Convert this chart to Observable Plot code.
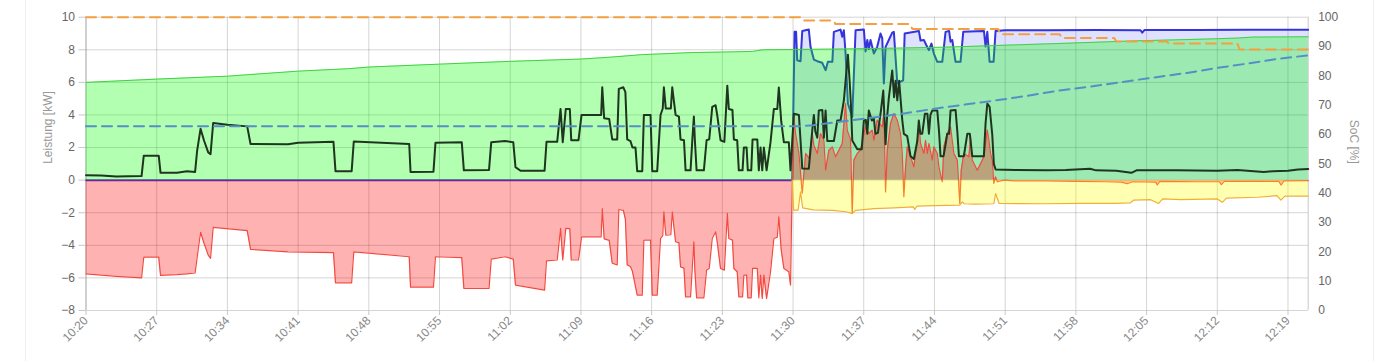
<!DOCTYPE html>
<html><head><meta charset="utf-8">
<script src="https://cdn.jsdelivr.net/npm/d3@7"></script>
<script src="https://cdn.jsdelivr.net/npm/@observablehq/plot@0.6"></script>
<style>
html,body{margin:0;padding:0;background:#fff;}
#wrap{position:relative;width:1399px;height:361px;overflow:hidden;}
#card{position:absolute;left:25px;top:0;width:1347px;height:361px;border-left:1px solid #f0f0f0;border-right:1px solid #f0f0f0;pointer-events:none;}
</style></head><body>
<div id="wrap"><div id="chart"></div><div id="card"></div></div>
<script>
// Time axis: minutes elapsed since 10:20
const xTickLabels = ["10:20","10:27","10:34","10:41","10:48","10:55","11:02","11:09","11:16","11:23","11:30","11:37","11:44","11:51","11:58","12:05","12:12","12:19"];
const kwTicks = [-8,-6,-4,-2,0,2,4,6,8,10];
const socTicks = [0,10,20,30,40,50,60,70,80,90,100];
const axisTitleLeft = "Leistung [kW]";
const axisTitleRight = "SoC [%]";

// PV (green area), [minute, kW]
const pvKW = [[0,6.0],[7,6.2],[14,6.38],[21,6.69],[26,6.84],[28,6.94],[35,7.12],[42,7.29],[49,7.43],[52,7.55],[55,7.7],[60,7.83],[63,7.86],[66,7.9],[67,8.0],[70,8.02],[75,8.05],[80,8.1],[85,8.16],[90,8.26],[97,8.4],[104,8.55],[111,8.66],[114,8.72],[115.5,8.78],[121,8.8]];

// house consumption (black line)
const houseKW = [[0,0.3],[1.5,0.28],[3,0.22],[5.5,0.25],[5.72,1.5],[7.2,1.5],[7.38,0.45],[9,0.45],[10,0.55],[10.8,0.5],[11.0,1.8],[11.34,3.15],[11.7,2.4],[12.1,1.7],[12.33,1.6],[12.59,3.5],[14,3.4],[15.96,3.3],[16.29,2.22],[20,2.2],[21,2.3],[24.5,2.35],[24.7,0.55],[26.3,0.55],[26.51,2.37],[32,2.22],[32.13,0.5],[34.4,0.52],[34.6,2.3],[37.2,2.33],[37.41,0.6],[39.9,0.62],[40.12,2.33],[41.5,2.4],[42.3,2.33],[42.52,0.8],[43.02,0.58],[45.4,0.58],[45.59,2.35],[46.65,2.35],[46.98,4.37],[47.2,2.33],[47.5,4.37],[47.9,4.37],[48.04,2.45],[48.76,2.45],[49.06,4.0],[51.0,4.0],[51.11,5.7],[51.3,3.8],[51.8,3.75],[52.1,2.5],[52.59,2.5],[52.75,5.6],[53.2,5.7],[53.4,5.4],[53.58,2.5],[53.9,2.4],[54.1,2.0],[54.4,2.0],[54.57,0.55],[55.07,0.55],[55.23,4.0],[55.89,4.0],[56.06,0.55],[56.55,0.55],[56.88,4.0],[57.1,4.4],[57.21,5.7],[57.4,4.4],[57.9,4.4],[58.04,5.7],[58.37,4.0],[58.7,3.9],[58.86,2.5],[59.2,2.45],[59.36,0.6],[59.85,0.6],[60.02,2.4],[60.18,3.9],[60.28,2.45],[60.45,0.6],[61.17,0.6],[61.44,2.45],[61.7,2.5],[62.0,4.5],[62.33,4.6],[62.49,4.0],[62.82,2.45],[63.2,2.35],[63.49,5.8],[63.64,4.37],[64.0,4.3],[64.14,2.5],[64.47,2.45],[64.63,0.6],[65.0,0.6],[65.13,2.0],[65.4,2.0],[65.52,0.6],[65.86,0.6],[65.99,2.5],[66.46,2.5],[66.61,0.6],[66.78,2.0],[66.95,0.6],[67.11,2.0],[67.38,0.6],[67.77,2.33],[68.10,4.37],[68.44,4.37],[68.59,5.68],[68.83,3.6],[69.09,2.33],[69.58,2.33],[69.75,0.6],[70.08,4.07],[70.58,4.0],[70.74,2.43],[70.91,0.72],[71.56,0.7],[71.9,3.04],[72.06,4.0],[72.2,3.0],[72.4,2.6],[72.55,4.27],[72.9,4.3],[73.05,2.6],[73.22,4.27],[73.39,2.4],[74.04,2.4],[74.38,3.66],[74.7,3.66],[75.03,4.89],[75.2,6.1],[75.43,7.7],[75.6,6.1],[75.75,4.4],[75.86,2.43],[76.36,1.9],[76.8,1.9],[77.01,3.66],[77.2,3.7],[77.35,2.85],[77.5,4.27],[77.8,3.66],[78.0,3.8],[78.15,2.85],[78.4,2.9],[78.7,4.27],[78.93,5.5],[79.16,2.2],[79.3,3.8],[79.49,5.1],[79.82,6.73],[80.0,5.09],[80.15,6.1],[80.32,4.9],[80.5,6.1],[80.81,3.7],[80.97,2.84],[81.3,2.7],[81.63,1.47],[81.96,1.3],[82.3,2.4],[82.45,3.66],[82.6,2.85],[82.79,2.85],[83.05,4.07],[83.3,4.07],[83.45,2.85],[83.6,4.0],[83.78,4.27],[84.28,4.27],[84.45,3.0],[84.6,1.47],[84.9,1.47],[85.1,2.2],[85.26,2.84],[85.45,2.84],[85.59,4.27],[86.09,4.3],[86.26,3.0],[86.42,1.47],[86.91,1.47],[87.25,2.84],[87.5,2.84],[87.74,1.47],[88.89,1.47],[89.06,3.5],[89.23,4.69],[89.46,4.5],[89.72,2.8],[89.88,1.0],[90.05,0.65],[92,0.62],[95,0.6],[97,0.62],[99.4,0.7],[100,0.6],[102,0.58],[103.5,0.45],[104,0.6],[108,0.6],[112,0.58],[114,0.62],[116.6,0.5],[117.5,0.55],[119,0.58],[120,0.65],[121,0.68]];

// grid exchange (red area)
const gridKW = [[0,-5.75],[3,-5.9],[5.5,-6.0],[5.72,-4.73],[7.2,-4.73],[7.38,-5.85],[9,-5.8],[10,-5.75],[10.8,-5.7],[11.34,-3.2],[11.7,-3.9],[12.1,-4.6],[12.33,-4.8],[12.59,-2.9],[15.96,-3.1],[16.29,-4.25],[20,-4.4],[24.5,-4.45],[24.7,-6.3],[26.3,-6.3],[26.51,-4.4],[32,-4.7],[32.13,-6.57],[34.4,-6.57],[34.6,-4.7],[37.2,-4.75],[37.41,-6.65],[39.9,-6.65],[40.12,-4.85],[41.5,-4.7],[42.3,-4.85],[42.52,-6.44],[45.4,-6.75],[45.59,-4.95],[46.65,-4.9],[46.98,-2.96],[47.2,-4.9],[47.5,-2.96],[47.9,-2.98],[48.04,-4.9],[48.76,-4.9],[49.06,-3.48],[51.0,-3.48],[51.11,-1.74],[51.3,-3.6],[51.8,-3.7],[52.1,-5.1],[52.59,-5.2],[52.75,-1.8],[53.2,-1.85],[53.4,-2.4],[53.58,-5.2],[53.9,-5.3],[54.1,-5.6],[54.57,-7.06],[55.07,-7.06],[55.23,-3.68],[55.89,-3.68],[56.06,-7.06],[56.55,-7.06],[56.88,-3.58],[57.1,-3.4],[57.21,-1.94],[57.4,-3.37],[57.9,-3.35],[58.04,-1.94],[58.37,-3.78],[58.7,-3.85],[58.86,-5.32],[59.2,-5.4],[59.36,-7.16],[59.85,-7.16],[60.02,-5.42],[60.18,-3.78],[60.28,-5.52],[60.45,-7.22],[61.17,-7.22],[61.44,-5.52],[61.7,-5.42],[62.0,-3.58],[62.33,-3.17],[62.49,-3.78],[62.82,-5.42],[63.2,-5.52],[63.49,-2.04],[63.64,-3.58],[64.0,-3.68],[64.14,-5.42],[64.47,-5.62],[64.63,-7.16],[65.0,-7.16],[65.13,-5.83],[65.4,-5.83],[65.52,-7.22],[65.86,-7.22],[65.99,-5.42],[66.46,-5.42],[66.61,-7.22],[66.78,-5.83],[66.95,-7.26],[67.11,-5.83],[67.38,-7.26],[67.77,-5.62],[68.10,-3.58],[68.44,-3.5],[68.59,-2.25],[68.83,-4.3],[69.09,-5.42],[69.58,-5.62],[69.75,-6.44],[69.92,0],[70.08,3.88],[70.25,2.86],[70.58,1.64],[70.91,-0.8],[71.25,1.64],[71.58,1.33],[71.9,2.86],[72.06,2.15],[72.4,1.64],[72.72,2.86],[73.05,2.45],[73.22,0.61],[73.55,1.84],[73.89,2.04],[74.21,1.43],[74.54,1.84],[74.87,2.25],[75.2,4.7],[75.36,3.07],[75.69,2.5],[75.86,-2.04],[76.02,1.23],[76.36,1.64],[76.68,1.84],[77.18,3.27],[77.5,2.86],[77.84,3.07],[78.0,2.45],[78.33,3.68],[78.83,3.27],[78.99,4.09],[79.16,-0.72],[79.33,1.84],[79.65,3.48],[79.98,4.09],[80.32,3.68],[80.64,2.86],[80.81,1.64],[80.97,-1.02],[81.14,0.82],[81.31,2.04],[81.63,1.43],[81.96,0.82],[82.3,2.45],[82.46,3.48],[82.62,2.25],[82.95,1.64],[83.12,2.45],[83.29,1.64],[83.45,2.25],[83.78,1.23],[83.94,2.04],[84.28,1.64],[84.44,0.82],[84.77,-0.1],[84.93,2.04],[85.26,2.86],[85.59,3.27],[85.76,2.45],[85.92,1.64],[86.26,1.23],[86.51,-1.43],[86.65,0.61],[86.91,1.64],[87.41,1.43],[87.57,2.65],[87.74,1.23],[88.24,0.61],[88.56,1.0],[88.89,1.43],[89.23,3.07],[89.39,2.45],[89.55,1.64],[89.72,1.23],[89.88,-0.2],[90.05,0.2],[90.22,-0.1],[90.87,0],[92,-0.05],[95,-0.05],[98,-0.08],[101,-0.1],[102.5,-0.12],[103.09,-0.22],[103.6,-0.1],[105.9,-0.12],[106.06,-0.3],[106.3,-0.08],[110,-0.1],[112.2,-0.1],[112.4,-0.28],[112.7,-0.08],[116,-0.06],[118.1,-0.08],[118.3,-0.3],[118.6,-0.05],[121,-0.03]];

// charging power (blue line, light blue area)
const chargeKW = [[0,0],[69.92,0],[70.15,9.1],[70.3,9.1],[70.41,7.35],[70.74,7.3],[70.91,9.15],[71.56,9.24],[71.73,8.18],[72.06,7.4],[72.4,7.3],[72.89,7.2],[73.22,6.75],[73.45,7.26],[73.89,7.26],[74.04,9.1],[74.7,9.24],[74.87,8.8],[75.03,9.2],[75.2,7.77],[75.43,4.7],[75.86,3.88],[76.19,9.2],[77.01,9.24],[77.18,7.9],[77.35,8.6],[77.5,8.05],[77.67,8.6],[78.0,7.77],[78.33,8.18],[78.66,9.0],[78.83,8.7],[78.99,5.93],[79.16,8.18],[79.33,8.4],[79.82,9.05],[79.98,9.1],[80.15,7.5],[80.32,5.93],[80.64,6.05],[80.9,6.13],[81.05,9.0],[82.46,9.15],[82.62,8.57],[82.95,8.6],[83.2,8.28],[83.45,7.98],[83.7,8.38],[83.94,7.77],[84.28,7.26],[84.77,7.26],[85.1,9.1],[85.45,9.15],[85.59,8.5],[85.76,8.6],[86.09,7.26],[86.58,7.26],[86.85,9.1],[88.9,9.15],[89.06,8.2],[89.23,9.1],[89.46,7.26],[89.85,7.26],[90.05,9.15],[91,9.2],[95,9.2],[100,9.22],[104.4,9.2],[104.57,9.05],[104.8,9.22],[110,9.22],[115,9.23],[121,9.23]];

// battery (yellow area)
const batteryKW = [[69.92,0],[70.05,-1.84],[70.5,-1.84],[70.74,-0.72],[70.95,-1.7],[72,-1.82],[74,-1.85],[75.2,-1.94],[75.86,-2.04],[76.2,-1.85],[78,-1.75],[80,-1.7],[81.9,-1.64],[82.05,-1.8],[82.25,-1.6],[84,-1.56],[86.5,-1.53],[86.75,-1.33],[86.95,-1.45],[88,-1.47],[89.88,-1.45],[90.05,-0.82],[90.4,-1.43],[95,-1.45],[98.5,-1.43],[101.8,-1.43],[103.4,-1.39],[103.7,-1.23],[105.4,-1.2],[106.19,-1.43],[106.6,-1.15],[108.4,-1.2],[112,-1.15],[112.5,-1.36],[112.9,-1.1],[116,-1.05],[117.9,-0.95],[118.3,-1.23],[118.7,-0.98],[121,-0.98]];

// SoC series (%), dashed lines on the right axis
const socOrange = [[0,100],[70.9,100],[71.1,98.9],[74.0,98.9],[74.2,97.7],[81.6,97.7],[81.8,96],[90.3,96],[90.5,94.2],[96.4,94.2],[96.6,92.9],[101.8,92.9],[102.0,91.7],[107.0,91.7],[107.2,91.0],[114.0,91.0],[114.2,89.0],[121,89.0]];
const socBlue = [[0,62.8],[70.5,62.8],[72,63.2],[75,64.5],[78,65.8],[81,67.2],[84,68.8],[87,70.2],[90,71.6],[93,73.1],[96,74.8],[100,76.6],[105,79.1],[109,81.0],[112,82.7],[115,84.2],[118,85.8],[121,87.0]];

const base = Date.UTC(2024,0,1,10,20);
const toDate = m => new Date(base + m*60000);
const rows = arr => arr.map(([m,v]) => ({t: toDate(m), v}));
const tickDates = xTickLabels.map(s => { const [h,mm] = s.split(":").map(Number); return new Date(Date.UTC(2024,0,1,h,mm)); });
const socToKW = s => -8 + 18*s/100;
const kwToSoc = k => Math.round((k + 8) / 18 * 100);

const pv = rows(pvKW), house = rows(houseKW), grid = rows(gridKW), charge = rows(chargeKW), batt = rows(batteryKW);
const soc1 = rows(socOrange), soc2 = rows(socBlue);
const xEnd = toDate(121);

const chart = Plot.plot({
  width: 1399, height: 361,
  marginLeft: 85.5, marginRight: 91.3, marginTop: 16.7, marginBottom: 51,
  x: {type: "utc", domain: [toDate(0), xEnd]},
  y: {domain: [-8, 10], label: null},
  style: {fontFamily: "'Liberation Sans', Arial, sans-serif", fontSize: "12px", background: "transparent", overflow: "visible"},
  marks: [
    Plot.gridY(kwTicks, {stroke: "#000", strokeOpacity: 0.17}),
    Plot.gridX(tickDates, {stroke: "#000", strokeOpacity: 0.17}),
    Plot.ruleX([toDate(0), xEnd], {stroke: "#000", strokeOpacity: 0.22}),
    Plot.areaY(charge, {x: "t", y: "v", fill: "#0000ff", fillOpacity: 0.12}),
    Plot.lineY(charge, {x: "t", y: "v", stroke: "#3434dc", strokeWidth: 2}),
    Plot.areaY(pv, {x: "t", y: "v", fill: "#00ff00", fillOpacity: 0.3}),
    Plot.lineY(pv, {x: "t", y: "v", stroke: "#44d044", strokeWidth: 1}),
    Plot.areaY(grid, {x: "t", y: "v", fill: "#ff0000", fillOpacity: 0.3}),
    Plot.lineY(grid, {x: "t", y: "v", stroke: "#f24a40", strokeWidth: 1.2}),
    Plot.areaY(batt, {x: "t", y: "v", fill: "#ffff00", fillOpacity: 0.3}),
    Plot.lineY(batt, {x: "t", y: "v", stroke: "#f0b030", strokeWidth: 1.2}),
    Plot.lineY(house, {x: "t", y: "v", stroke: "#1f351f", strokeWidth: 2}),
    Plot.lineY(soc1, {x: "t", y: d => socToKW(d.v), stroke: "#f5a040", strokeWidth: 2, strokeDasharray: "10,6"}),
    Plot.lineY(soc2, {x: "t", y: d => socToKW(d.v), stroke: "#5590c4", strokeWidth: 2, strokeDasharray: "10,6"}),
    Plot.axisY(kwTicks, {anchor: "left", tickSize: 7, tickPadding: 4, label: null, stroke: "#c8c8c8", fill: "#666"}),
    Plot.axisY(socTicks.map(socToKW), {anchor: "right", tickSize: 0, tickPadding: 10, label: null, tickFormat: kwToSoc, fill: "#666"}),
    Plot.axisX(tickDates, {anchor: "bottom", tickSize: 5, tickPadding: 3, tickRotate: -45, label: null, tickFormat: d3.utcFormat("%H:%M"), stroke: "#c8c8c8", fill: "#888"}),
    Plot.text([axisTitleLeft], {text: d => d, frameAnchor: "left", dx: -38, rotate: -90, fill: "#999", fontSize: 12}),
    Plot.text([axisTitleRight], {text: d => d, frameAnchor: "right", dx: 45.5, rotate: 90, fill: "#999", fontSize: 12})
  ]
});
document.getElementById("chart").appendChild(chart);
</script>
</body></html>
